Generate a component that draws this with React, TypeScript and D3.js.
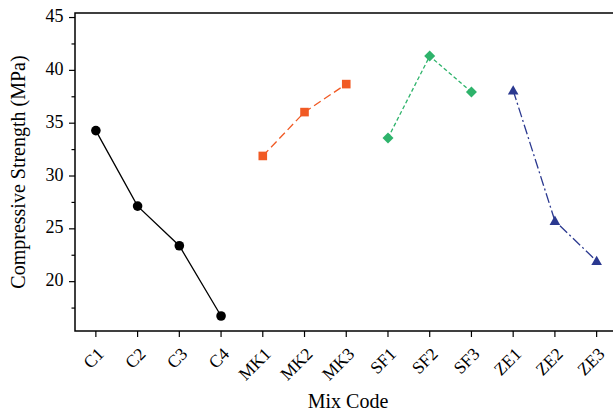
import React from "react";
import * as d3 from "d3";

const categories = ["C1", "C2", "C3", "C4", "MK1", "MK2", "MK3", "SF1", "SF2", "SF3", "ZE1", "ZE2", "ZE3"];
const seriesC = [34.3, 27.15, 23.4, 16.75];
const seriesMK = [31.9, 36.05, 38.7];
const seriesSF = [33.6, 41.35, 37.95];
const seriesZE = [38.1, 25.75, 21.95];
const yTicks = [20, 25, 30, 35, 40, 45];
const yMinor = [17.5, 22.5, 27.5, 32.5, 37.5, 42.5];

const W = 613;
const H = 410;
const left = 75;
const right = 617.5;
const top = 13;
const bottom = 331;

export default function App() {
  const x = d3.scalePoint<string>().domain(categories).range([left, right]).padding(0.5);
  const y = d3.scaleLinear().domain([15.33, 45.43]).range([bottom, top]);
  const line = d3
    .line<{ c: string; v: number }>()
    .x((d) => x(d.c)!)
    .y((d) => y(d.v));

  const series = [
    { cats: categories.slice(0, 4), vals: seriesC, color: "#000000", dash: "none", marker: "circle" },
    { cats: categories.slice(4, 7), vals: seriesMK, color: "#F15A24", dash: "8,4", marker: "square" },
    { cats: categories.slice(7, 10), vals: seriesSF, color: "#2EB36B", dash: "4,2.5", marker: "diamond" },
    { cats: categories.slice(10, 13), vals: seriesZE, color: "#2B3990", dash: "10,3,2,3", marker: "triangle" },
  ];

  const font = "'Liberation Serif', 'Times New Roman', serif";

  const marker = (type: string, cx: number, cy: number, color: string, key: string) => {
    if (type === "circle") return <circle key={key} cx={cx} cy={cy} r={4.8} fill={color} />;
    if (type === "square") return <rect key={key} x={cx - 4.3} y={cy - 4.3} width={8.6} height={8.6} fill={color} />;
    if (type === "diamond") {
      const r = 5.5;
      return <path key={key} d={`M${cx},${cy - r}L${cx + r},${cy}L${cx},${cy + r}L${cx - r},${cy}Z`} fill={color} />;
    }
    const s = 5.3;
    return <path key={key} d={`M${cx},${cy - s}L${cx + s},${cy + s * 0.75}L${cx - s},${cy + s * 0.75}Z`} fill={color} />;
  };

  return (
    <svg width={W} height={H} style={{ position: "absolute", left: 0, top: 0 }} fontFamily={font}>
      <rect x={0} y={0} width={W} height={H} fill="#fff" />
      {/* frame */}
      <rect x={left} y={top} width={right - left} height={bottom - top} fill="none" stroke="#000" strokeWidth={1.5} />
      {/* y ticks */}
      {yTicks.map((t) => (
        <g key={"yt" + t}>
          <line x1={left - 6} x2={left} y1={y(t)} y2={y(t)} stroke="#000" strokeWidth={1.2} />
          <text x={left - 11.5} y={y(t)} dy="0.25em" textAnchor="end" fontSize={18}>
            {t}
          </text>
        </g>
      ))}
      {yMinor.map((t) => (
        <line key={"ym" + t} x1={left - 3.5} x2={left} y1={y(t)} y2={y(t)} stroke="#000" strokeWidth={1.2} />
      ))}
      {/* x ticks */}
      {categories.map((c) => (
        <g key={"xt" + c}>
          <line x1={x(c)!} x2={x(c)!} y1={bottom} y2={bottom + 6} stroke="#000" strokeWidth={1.2} />
          <text
            transform={`translate(${x(c)! + 0.5},${bottom + 15.5}) rotate(-45)`}
            textAnchor="end"
            dy="0.7em"
            fontSize={17.5}
          >
            {c}
          </text>
        </g>
      ))}
      {/* series */}
      {series.map((s, i) => {
        const pts = s.cats.map((c, j) => ({ c, v: s.vals[j] }));
        return (
          <g key={"s" + i}>
            <path d={line(pts)!} fill="none" stroke={s.color} strokeWidth={1.3} strokeDasharray={s.dash} />
            {pts.map((p, j) => marker(s.marker, x(p.c)!, y(p.v), s.color, `m${i}-${j}`))}
          </g>
        );
      })}
      {/* axis titles */}
      <text x={(left + 613) / 2 + 4} y={407.5} textAnchor="middle" fontSize={20}>
        Mix Code
      </text>
      <text transform={`translate(25,${(top + bottom) / 2}) rotate(-90)`} textAnchor="middle" fontSize={20}>
        Compressive Strength (MPa)
      </text>
    </svg>
  );
}
